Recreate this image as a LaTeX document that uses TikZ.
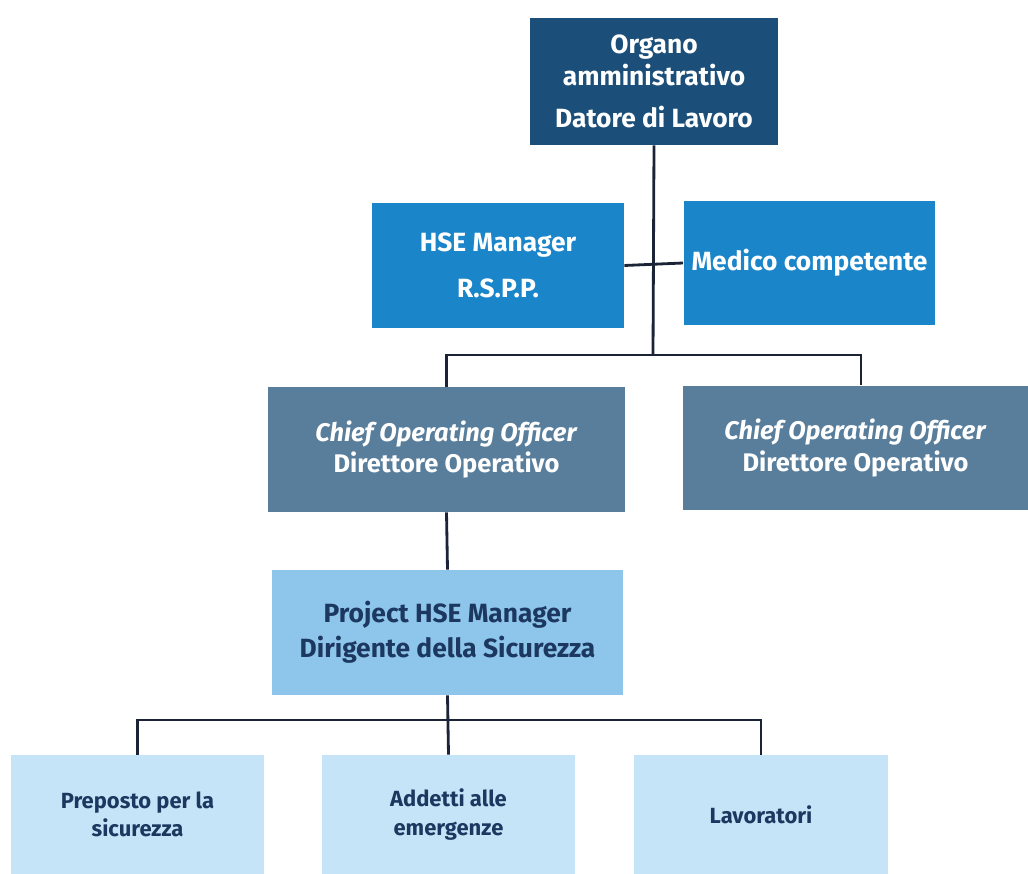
\documentclass[tikz,border=0pt]{standalone}
\usepackage{fontspec}
\setmainfont{Fira Sans}
\usepackage{xcolor}
\usepackage{tikz}
\usetikzlibrary{positioning, calc}
\definecolor{navy}{RGB}{27, 78, 121}
\definecolor{hseblue}{RGB}{26, 133, 201}
\definecolor{cooblue}{RGB}{88, 126, 156}
\definecolor{projblue}{RGB}{142, 197, 235}
\definecolor{paleblue}{RGB}{198, 228, 248}
\definecolor{inkblue}{RGB}{28, 56, 96}
\definecolor{linecol}{RGB}{26, 36, 54}

\begin{document}
\begin{tikzpicture}[
    x=0.02cm, y=-0.02cm,
    box/.style={rectangle, inner sep=0pt, align=center, font=\fontsize{15}{20}\selectfont\bfseries},
    top/.style={box, fill=navy, text=white, minimum width=4.96cm, minimum height=2.54cm, font=\fontsize{15}{18}\selectfont\bfseries},
    staff/.style={box, fill=hseblue, text=white, minimum width=5.04cm, minimum height=2.5cm},
    coo/.style={box, fill=cooblue, text=white, minimum height=2.5cm, font=\fontsize{14.5}{18}\selectfont\bfseries},
    proj/.style={box, fill=projblue, text=inkblue, minimum width=7.02cm, minimum height=2.5cm},
    leaf/.style={box, fill=paleblue, text=inkblue, minimum width=5.08cm, minimum height=2.38cm, font=\fontsize{12.5}{16}\selectfont\bfseries},
    link/.style={draw=linecol, line width=1.6pt}
]
\useasboundingbox (0,0) rectangle (1028,874);

% Vertice
\node [top] (datore) at (654, 81.5) {Organo\\amministrativo\\[6pt]Datore di Lavoro};

% Staff
\node [staff] (rspp) at (498, 265.5) {HSE Manager\\[6pt]R.S.P.P.};
\node [staff] (medico) at (809.5, 263) {Medico competente};

% Direzione operativa
\node [coo, minimum width=7.14cm] (cooA) at (446.5, 449.5) {\textit{Chief Operating Officer}\\Direttore Operativo};
\node [coo, minimum width=6.9cm] (cooB) at (855.5, 448) {\textit{Chief Operating Officer}\\Direttore Operativo};

\node [proj] (projhse) at (447.5, 632.5) {Project HSE Manager\\Dirigente della Sicurezza};

% Livello operativo
\node [leaf] (preposto) at (137.5, 814.5) {Preposto per la\\sicurezza};
\node [leaf] (addetti) at (448.5, 814.5) {Addetti alle\\emergenze};
\node [leaf] (lavoratori) at (761, 814.5) {Lavoratori};

\coordinate (snodo1) at (653, 355);
\coordinate (snodo2) at (447.5, 720);

% Collegamenti
\draw [link] (datore.south) -- (snodo1);
\draw [link] (rspp.east) -- (medico.west);
\draw [link] (snodo1) -| (cooA.north);
\draw [link] (snodo1) -| ([xshift=0.11cm]cooB.north);
\draw [link] (cooA.south) -- (projhse.north);
\draw [link] (projhse.south) -- (addetti.north);
\draw [link] (snodo2) -| (preposto.north);
\draw [link] (snodo2) -| (lavoratori.north);

\end{tikzpicture}
\end{document}
